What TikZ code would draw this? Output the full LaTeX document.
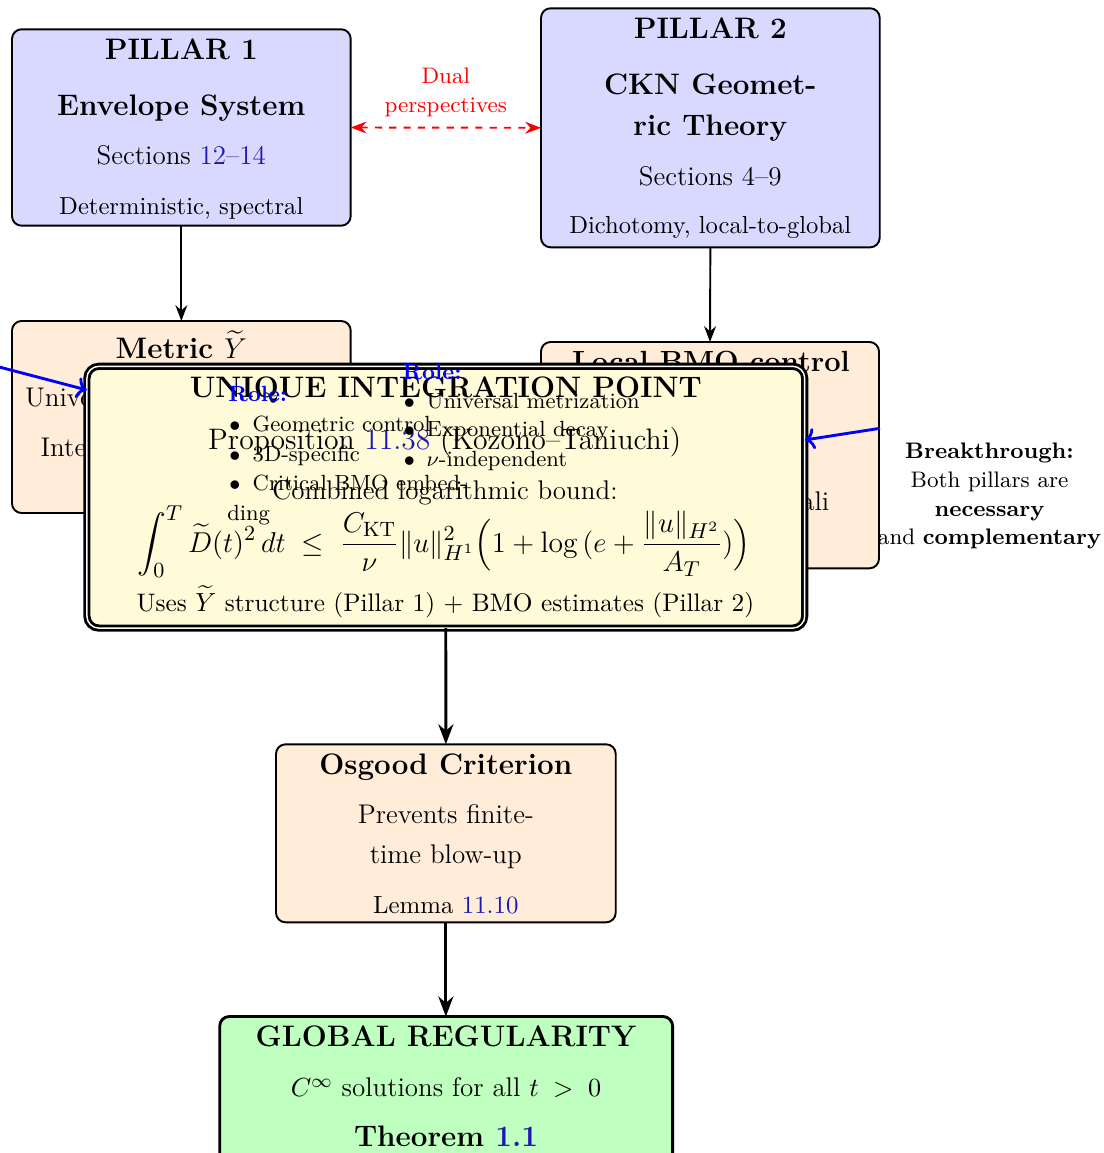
\documentclass[tikz,border=0pt]{standalone}
\usepackage{amsmath}
\usepackage{fontspec}
\usetikzlibrary{arrows.meta,fit,calc}

\definecolor{pillarfill}{RGB}{217,217,255}
\definecolor{stepfill}{RGB}{255,236,217}
\definecolor{keyfill}{RGB}{255,250,216}
\definecolor{goalfill}{RGB}{191,255,191}
\definecolor{linkblue}{RGB}{26,26,178}

\newcommand{\sz}[1]{\fontsize{#1}{#1}\selectfont}

\begin{document}
\begin{tikzpicture}[x=0.4185pt, y=-0.4185pt,
  every node/.style={inner sep=0pt, outer sep=0pt},
  box/.style={draw=black, line width=0.8pt, rounded corners=4pt, inner sep=0pt},
  pillar/.style={box, fill=pillarfill},
  stage/.style={box, fill=stepfill},
  keybox/.style={draw=black, line width=1.2pt, double=white, double distance=0.6pt,
                 rounded corners=5pt, fill=keyfill, inner sep=0pt},
  goal/.style={box, line width=1.2pt, fill=goalfill},
  ttl/.style={anchor=base, font=\sz{12.4}\bfseries},
  txt/.style={anchor=base, font=\sz{11.3}},
  sml/.style={anchor=base, font=\sz{10.3}},
  note/.style={anchor=base west, font=\sz{9.2}},
  flow/.style={thick, -{Stealth}},
  mainflow/.style={very thick, -{Stealth}},
  hint/.style={blue, very thick, ->},
]
\useasboundingbox (0,0) rectangle (1104,1153);
\clip (0,0) rectangle (1104,1153);

% the two pillars
\node[pillar, fit={(12,29.3) (350.7,225.7)}] (p1) {};
\node[pillar, fit={(541,8.3) (879.7,247.3)}] (p2) {};
\node[ttl] (p1a) at (181.3,59.5) {PILLAR 1};
\node[ttl] (p1b) at (181.3,115) {Envelope System};
\node[txt] (p1c) at (181.3,164) {Sections \textcolor{linkblue}{12--14}};
\node[sml] (p1d) at (181.3,214.3) {Deterministic, spectral};
\node[ttl] (p2a) at (710.3,38.3) {PILLAR 2};
\node[ttl] (p2b) at (710.3,95) {CKN Geomet-};
\node[ttl] (p2c) at (710.3,136) {ric Theory};
\node[txt] (p2d) at (710.3,185) {Sections 4--9};
\node[sml] (p2e) at (710.3,233.3) {Dichotomy, local-to-global};

% link between the pillars
\draw[red, thick, dashed, {Stealth}-{Stealth}] (p1.east) -- (p2.west);
\node[anchor=base, red, font=\sz{9.4}] (dual1) at (445.8,83.3) {Dual};
\node[anchor=base, red, font=\sz{9.4}] (dual2) at (445.8,112.7) {perspectives};

% intermediate tools
\node[stage, fit={(12,321) (350.7,513)}] (metric) {};
\node[stage, fit={(541,342) (879,568.3)}] (bmo) {};
\draw[flow] (p1.south) -- (metric.north);
\draw[flow] (p2.south) -- (bmo.north);
\node[ttl] (ma) at (181.3,358.3) {Metric $\widetilde{Y}$};
\node[anchor=base west, font=\sz{11.3}] (mb) at (25,406.7) {Universal metric};
\node[anchor=base west, font=\sz{11.3}] (mc) at (40.7,456) {Interpolating};
\node[anchor=base, font=\sz{12.2}\bfseries] (ba) at (711,371.7) {Local BMO control};
\node[anchor=base east, font=\sz{11.3}] (bb) at (829.3,510) {Vitali};

% pointers into the integration point
\coordinate (lsrc) at (-40,356.7);
\coordinate (rsrc) at (880,428.3);

% the integration point
\node[keybox, fit={(86.9,366.3) (804.7,628.1)}] (uip) {};
\draw[hint] (lsrc) -- ($(uip.west)+(0,-107.2)$);
\draw[hint] (rsrc) -- ($(uip.east)+(0,-57.2)$);
\node[ttl] (ua) at (445.8,397.3) {UNIQUE INTEGRATION POINT};
\node[anchor=base, font=\sz{12.4}] (ub) at (444.7,449.3) {Proposition \textcolor{linkblue}{11.38} (Kozono--Taniuchi)};
\node[anchor=base, font=\sz{11.3}] (uc) at (445,499.3) {Combined logarithmic bound:};
\node[anchor=base, font=\sz{12.4}] (ud) at (444,552)
  {$\displaystyle\int_0^T \widetilde{D}(t)^2\,dt \;\le\; \frac{C_{\mathrm{KT}}}{\nu}\|u\|_{H^1}^2\Bigl(1+\log\,(e+\frac{\|u\|_{H^2}}{A_T})\Bigr)$};
\node[anchor=base, font=\sz{10.6}] (ue) at (445.5,611) {Uses $\widetilde{Y}$ structure (Pillar 1) + BMO estimates (Pillar 2)};

% role notes
\node[note, font=\sz{9.2}\bfseries, blue] (r1) at (228.3,401.7) {Role:};
\node[anchor=base, font=\sz{9.2}] (r1b1) at (235,431) {$\bullet$};
\node[note] (r1i1) at (252.7,431) {Geometric control};
\node[anchor=base, font=\sz{9.2}] (r1b2) at (235,461) {$\bullet$};
\node[note] (r1i2) at (252.7,461) {3D-specific};
\node[anchor=base, font=\sz{9.2}] (r1b3) at (235,490) {$\bullet$};
\node[note] (r1i3) at (252.7,490) {Critical BMO embed-};
\node[note] (r1i4) at (227.3,520.5) {ding};
\node[note, font=\sz{9.2}\bfseries, blue] (r2) at (402.7,379) {Role:};
\node[anchor=base, font=\sz{9.2}] (r2b1) at (409.3,408.3) {$\bullet$};
\node[note] (r2i1) at (426.7,408.3) {Universal metrization};
\node[anchor=base, font=\sz{9.2}] (r2b2) at (409.3,436) {$\bullet$};
\node[note] (r2i2) at (426.7,436) {Exponential decay};
\node[anchor=base, font=\sz{9.2}] (r2b3) at (409.3,466) {$\bullet$};
\node[note] (r2i3) at (426.7,466) {$\nu$-independent};

% breakthrough remark
\node[anchor=base, font=\sz{9.4}\bfseries] (k1) at (989.5,458.3) {Breakthrough:};
\node[anchor=base, font=\sz{9.4}] (k2) at (989.5,487.3) {Both pillars are};
\node[anchor=base, font=\sz{9.4}\bfseries] (k3) at (989.5,516) {necessary};
\node[anchor=base, font=\sz{9.4}] (k4) at (989.5,544) {and \textbf{complementary}};

% Osgood step
\node[stage, fit={(276,744.3) (615.7,922.3)}] (osgood) {};
\draw[mainflow] (uip.south) -- (osgood.north);
\node[ttl] (oa) at (445.8,774) {Osgood Criterion};
\node[txt] (ob) at (445.8,823.3) {Prevents finite-};
\node[txt] (oc) at (445.8,863.3) {time blow-up};
\node[anchor=base, font=\sz{10.4}] (od) at (445.8,913.3) {Lemma \textcolor{linkblue}{11.10}};

% conclusion
\node[goal, fit={(219.7,1016.5) (672.6,1185)}] (global) {};
\draw[mainflow] (osgood.south) -- (osgood.south |- global.north);
\node[ttl] (ga) at (446,1046.7) {GLOBAL REGULARITY};
\node[txt] (gb) at (446,1096.7) {$C^\infty$ solutions for all $t\;>\;0$};
\node[ttl] (gc) at (446,1146.7) {Theorem \textcolor{linkblue}{1.1}};
\end{tikzpicture}
\end{document}
